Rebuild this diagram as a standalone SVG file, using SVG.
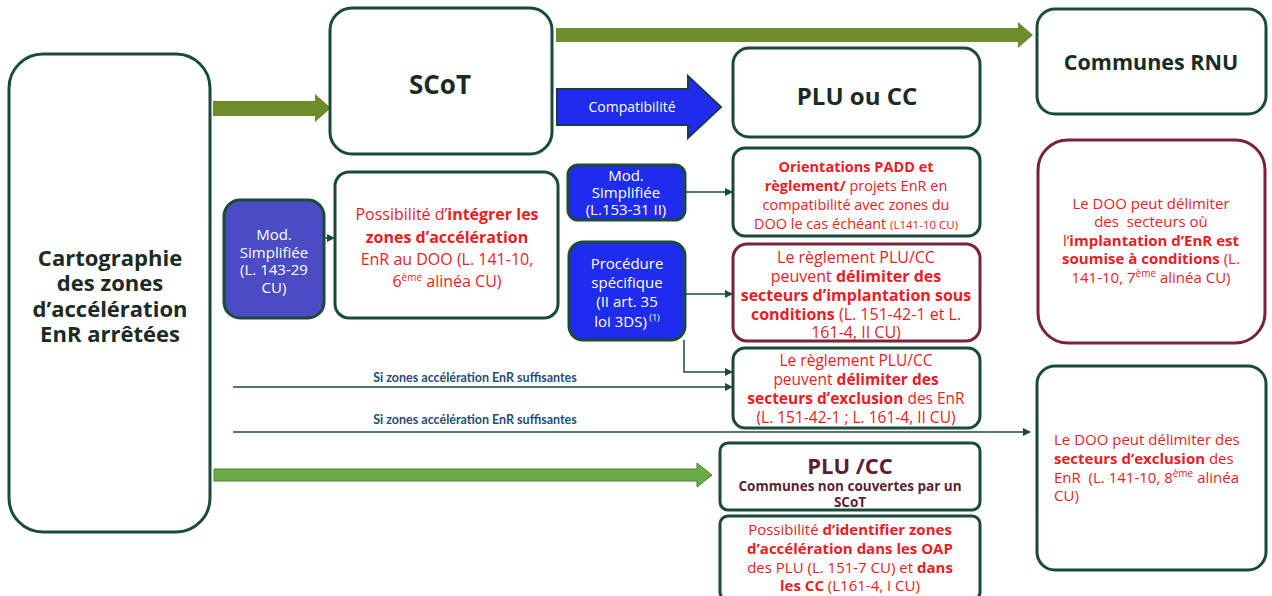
<svg xmlns="http://www.w3.org/2000/svg" width="1272" height="596" viewBox="0 0 1272 596">
<style>
.box{fill:#fff;stroke:#1b4a3a;stroke-width:3}
.rbox{fill:#fff;stroke:#7a2236;stroke-width:3}
.bbox{fill:#1f2cf0;stroke:#1b4a3a;stroke-width:3}
.pbox{fill:#4b4bc6;stroke:#1b4a3a;stroke-width:3}
text{font-family:"Open Sans","Liberation Sans",sans-serif;text-anchor:middle}
.title{font-weight:700;fill:#1c2a24}
.wt{fill:#fff;font-size:15px}
.red{fill:#ee1b24;font-size:16px}
.b{font-weight:700}
.lbl{fill:#1f4e79;font-size:12.5px;font-weight:700;font-family:"Lato","Liberation Sans",sans-serif}
.conn{stroke:#1b4a3a;stroke-width:1.5;fill:none}
.olive{fill:#6e8c2c}
.green{fill:#6aac46;stroke:#4f7f32;stroke-width:1}
</style>
<defs>
<marker id="ah" markerWidth="8" markerHeight="8" refX="7" refY="4" orient="auto" markerUnits="userSpaceOnUse">
<path d="M0,0 L8,4 L0,8 Z" fill="#1b4a3a"/>
</marker>
</defs>

<g id="connectors">
<polygon class="olive" points="213,101 315,101 315,94 331,108 315,122 315,116 213,116"/>
<polygon class="olive" points="556,28 1018,28 1018,22 1033,35 1018,48 1018,42 556,42"/>
<polygon points="557,89 688,89 688,76 721,107 688,138 688,125 557,125" fill="#1f2cf0" stroke="#1b3a4a" stroke-width="2"/>
<text x="632" y="112" class="wt" style="font-size:14px">Compatibilité</text>
<polygon class="green" points="214,469 697,469 697,463 712,475 697,487 697,481 214,481"/>
<line class="conn" x1="308" y1="238" x2="334" y2="238" marker-end="url(#ah)"/>
<line class="conn" x1="685" y1="192" x2="732" y2="192" marker-end="url(#ah)"/>
<line class="conn" x1="685" y1="294" x2="732" y2="294" marker-end="url(#ah)"/>
<polyline class="conn" points="684,340 684,372 732,372" marker-end="url(#ah)"/>
<line class="conn" x1="233" y1="387" x2="732" y2="387" marker-end="url(#ah)"/>
<text x="475" y="382" class="lbl">Si zones accélération EnR suffisantes</text>
<line class="conn" x1="233" y1="432" x2="1030" y2="432" marker-end="url(#ah)"/>
<text x="475" y="424" class="lbl">Si zones accélération EnR suffisantes</text>
</g>

<g id="carto">
<rect class="box" x="9" y="54" width="201" height="478" rx="34"/>
<text class="title" font-size="22" x="110" y="266">Cartographie</text>
<text class="title" font-size="22" x="110" y="291">des zones</text>
<text class="title" font-size="22" x="110" y="317">d’accélération</text>
<text class="title" font-size="22" x="110" y="342">EnR arrêtées</text>
</g>

<g id="scot">
<rect class="box" x="330" y="8" width="222" height="146" rx="22"/>
<text class="title" font-size="26" x="440" y="94">SCoT</text>
</g>

<g id="rnu">
<rect class="box" x="1037" y="9" width="229" height="105" rx="18"/>
<text class="title" font-size="21.5" x="1151" y="70">Communes RNU</text>
</g>

<g id="pluoucc">
<rect class="box" x="733" y="48" width="247" height="89" rx="16"/>
<text class="title" font-size="24" x="857" y="105">PLU ou CC</text>
</g>

<g id="mod1">
<rect class="pbox" x="224" y="200" width="100" height="118" rx="16"/>
<text class="wt" x="274" y="240">Mod.</text>
<text class="wt" x="274" y="258">Simplifiée</text>
<text class="wt" x="274" y="275">(L. 143-29</text>
<text class="wt" x="274" y="293">CU)</text>
</g>

<g id="integrer">
<rect class="box" x="335" y="172" width="223" height="146" rx="14"/>
<text class="red" x="447" y="220">Possibilité d’<tspan class="b">intégrer les</tspan></text>
<text class="red b" x="447" y="243">zones d’accélération</text>
<text class="red" x="447" y="265">EnR au DOO (L. 141-10,</text>
<text class="red" x="447" y="287">6<tspan font-size="10" dy="-6">ème</tspan><tspan dy="6"> alinéa CU)</tspan></text>
</g>

<g id="mod2">
<rect class="bbox" x="568" y="165" width="117" height="55" rx="10"/>
<text class="wt" x="626" y="181">Mod.</text>
<text class="wt" x="626" y="198">Simplifiée</text>
<text class="wt" x="626" y="215">(L.153-31 II)</text>
</g>

<g id="padd">
<rect class="box" x="733" y="148" width="247" height="88" rx="12"/>
<text class="red b" style="font-size:14.5px" x="856" y="172">Orientations PADD et</text>
<text class="red" style="font-size:14.5px" x="856" y="191"><tspan class="b">règlement/</tspan> projets EnR en</text>
<text class="red" style="font-size:14.5px" x="856" y="210">compatibilité avec zones du</text>
<text class="red" style="font-size:14.5px" x="856" y="229">DOO le cas échéant <tspan font-size="11.5">(L141-10 CU)</tspan></text>
</g>

<g id="procedure">
<rect class="bbox" x="569" y="242" width="116" height="98" rx="14"/>
<text class="wt" x="627" y="269">Procédure</text>
<text class="wt" x="627" y="288">spécifique</text>
<text class="wt" x="627" y="307">(II art. 35</text>
<text class="wt" x="627" y="327">loi 3DS)<tspan font-size="9" dy="-6"> (1)</tspan></text>
</g>

<g id="implantation">
<rect class="rbox" x="733" y="244" width="247" height="97" rx="14"/>
<text class="red" x="856" y="263">Le règlement PLU/CC</text>
<text class="red" x="856" y="282">peuvent <tspan class="b">délimiter des</tspan></text>
<text class="red b" x="856" y="301">secteurs d’implantation sous</text>
<text class="red" x="856" y="320"><tspan class="b">conditions</tspan> (L. 151-42-1 et L.</text>
<text class="red" x="856" y="338">161-4, II CU)</text>
</g>

<g id="exclusion">
<rect class="box" x="733" y="348" width="247" height="80" rx="12"/>
<text class="red" style="font-size:15.5px" x="856" y="366">Le règlement PLU/CC</text>
<text class="red" style="font-size:15.5px" x="856" y="385">peuvent <tspan class="b">délimiter des</tspan></text>
<text class="red" style="font-size:15.5px" x="856" y="404"><tspan class="b">secteurs d’exclusion</tspan> des EnR</text>
<text class="red" style="font-size:15.5px" x="856" y="423">(L. 151-42-1 ; L. 161-4, II CU)</text>
</g>

<g id="plucc">
<rect class="box" x="720" y="443" width="260" height="67" rx="8"/>
<text class="b" fill="#5a1f35" font-size="22" x="850" y="474">PLU /CC</text>
<text class="b" fill="#5a1f35" font-size="13.5" x="850" y="491">Communes non couvertes par un</text>
<text class="b" fill="#5a1f35" font-size="13.5" x="850" y="507">SCoT</text>
</g>

<g id="oap">
<rect class="box" x="720" y="516" width="260" height="84" rx="8"/>
<text class="red" style="font-size:15px" x="850" y="535">Possibilité <tspan class="b">d’identifier zones</tspan></text>
<text class="red b" style="font-size:15px" x="850" y="554">d’accélération dans les OAP</text>
<text class="red" style="font-size:15px" x="850" y="573">des PLU (L. 151-7 CU) et <tspan class="b">dans</tspan></text>
<text class="red" style="font-size:15px" x="850" y="591"><tspan class="b">les CC</tspan> (L161-4, I CU)</text>
</g>

<g id="doo-conditions">
<rect class="rbox" x="1038" y="140" width="227" height="203" rx="30"/>
<text class="red" style="font-size:15px" x="1151" y="209">Le DOO peut délimiter</text>
<text class="red" style="font-size:15px" x="1151" y="227" xml:space="preserve">des  secteurs où</text>
<text class="red" style="font-size:15px" x="1151" y="246">l’<tspan class="b">implantation d’EnR est</tspan></text>
<text class="red" style="font-size:15px" x="1151" y="264"><tspan class="b">soumise à conditions</tspan> (L.</text>
<text class="red" style="font-size:15px" x="1151" y="283">141-10, 7<tspan font-size="10" dy="-6">ème</tspan><tspan dy="6"> alinéa CU)</tspan></text>
</g>

<g id="doo-exclusion">
<rect class="box" x="1037" y="366" width="229" height="204" rx="18"/>
<text class="red" style="text-anchor:start;font-size:15px" x="1054" y="445">Le DOO peut délimiter des</text>
<text class="red" style="text-anchor:start;font-size:15px" x="1054" y="464"><tspan class="b">secteurs d’exclusion</tspan> des</text>
<text class="red" style="text-anchor:start;font-size:15px" x="1054" y="483" xml:space="preserve">EnR  (L. 141-10, 8<tspan font-size="10" dy="-6">ème</tspan><tspan dy="6"> alinéa</tspan></text>
<text class="red" style="text-anchor:start;font-size:15px" x="1054" y="501">CU)</text>
</g>
</svg>
